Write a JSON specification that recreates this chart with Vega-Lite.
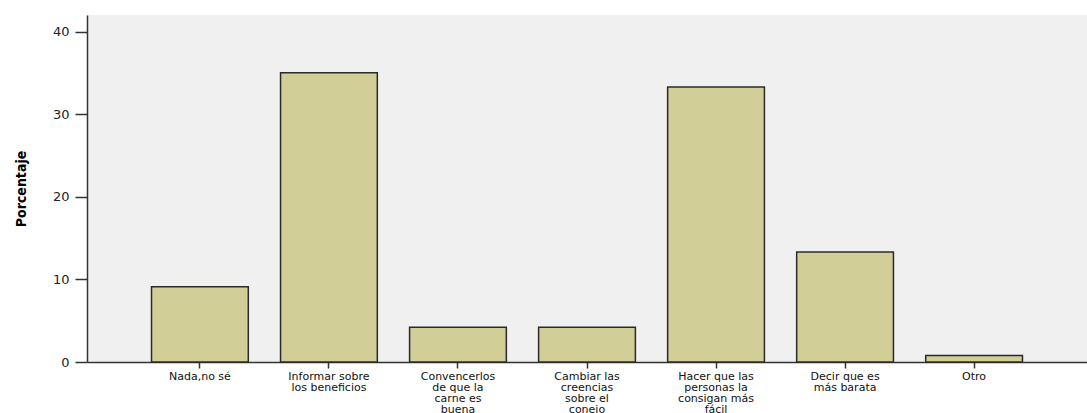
{
  "$schema": "https://vega.github.io/schema/vega-lite/v6.json",
  "autosize": {"type": "none"},
  "padding": {"left": 87, "top": 15, "right": 0, "bottom": 51},
  "width": 1000,
  "height": 347,
  "background": "#ffffff",
  "config": {
    "view": {"fill": "#f0f0f0", "stroke": null},
    "font": "DejaVu Sans"
  },
  "data": {
    "values": [
      {"categoria": "Nada,no sé", "porcentaje": 9.1},
      {"categoria": "Informar sobre los beneficios", "porcentaje": 35.0},
      {"categoria": "Convencerlos de que la carne es buena", "porcentaje": 4.2},
      {"categoria": "Cambiar las creencias sobre el conejo", "porcentaje": 4.2},
      {"categoria": "Hacer que las personas la consigan más fácil", "porcentaje": 33.3},
      {"categoria": "Decir que es más barata", "porcentaje": 13.3},
      {"categoria": "Otro", "porcentaje": 0.8}
    ]
  },
  "mark": {"type": "bar", "fill": "#d2ce98", "stroke": "#2a2a2a", "strokeWidth": 1.5},
  "encoding": {
    "x": {
      "field": "categoria",
      "type": "nominal",
      "sort": null,
      "scale": {"paddingInner": 0.25, "paddingOuter": 0.5},
      "axis": {
        "title": null,
        "labelAngle": 0,
        "labelFont": "DejaVu Sans",
        "labelFontSize": 11,
        "labelColor": "#111111",
        "labelLineHeight": 11,
        "labelPadding": 2,
        "labelLimit": 200,
        "labelOverlap": false,
        "tickSize": 6,
        "tickColor": "#333333",
        "tickWidth": 1.5,
        "domainColor": "#333333",
        "domainWidth": 1.5,
        "labelExpr": "datum.value == 'Informar sobre los beneficios' ? ['Informar sobre', 'los beneficios'] : datum.value == 'Convencerlos de que la carne es buena' ? ['Convencerlos', 'de que la', 'carne es', 'buena'] : datum.value == 'Cambiar las creencias sobre el conejo' ? ['Cambiar las', 'creencias', 'sobre el', 'conejo'] : datum.value == 'Hacer que las personas la consigan más fácil' ? ['Hacer que las', 'personas la', 'consigan más', 'fácil'] : datum.value == 'Decir que es más barata' ? ['Decir que es', 'más barata'] : datum.value"
      }
    },
    "y": {
      "field": "porcentaje",
      "type": "quantitative",
      "scale": {"domain": [0, 42], "nice": false},
      "axis": {
        "title": "Porcentaje",
        "titleFont": "DejaVu Sans Condensed",
        "titleFontSize": 14,
        "titleFontWeight": "bold",
        "titleColor": "#000000",
        "titlePadding": 24,
        "values": [0, 10, 20, 30, 40],
        "grid": false,
        "labelFont": "DejaVu Sans",
        "labelFontSize": 13,
        "labelColor": "#222222",
        "labelPadding": 6,
        "tickSize": 12,
        "tickColor": "#333333",
        "tickWidth": 1.5,
        "domainColor": "#333333",
        "domainWidth": 1.5
      }
    }
  }
}
